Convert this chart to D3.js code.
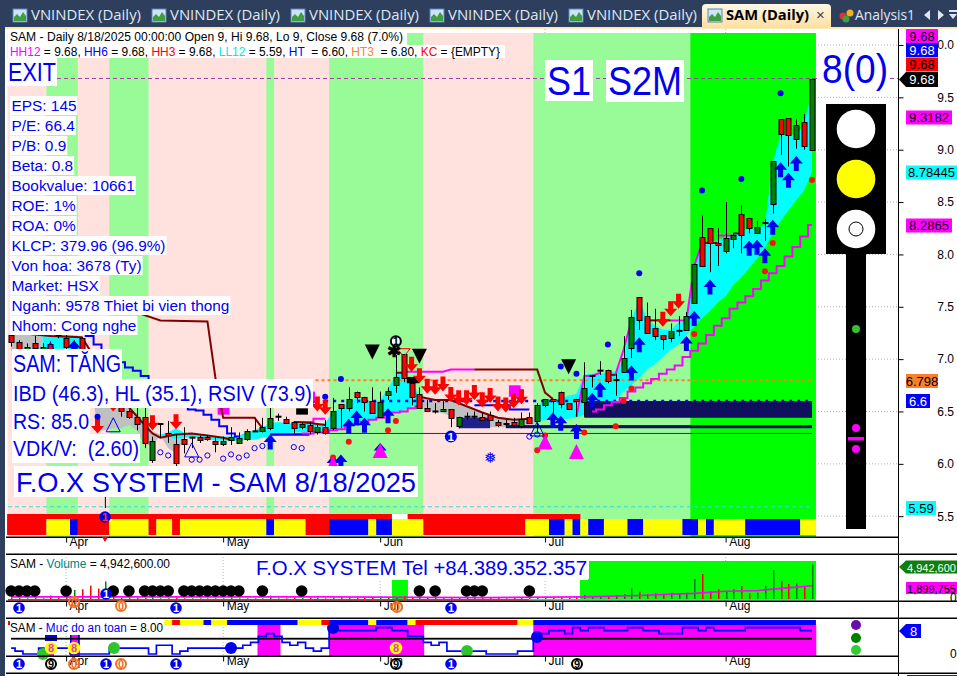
<!DOCTYPE html>
<html><head><meta charset="utf-8">
<script src="https://cdnjs.cloudflare.com/ajax/libs/d3/7.8.5/d3.min.js"></script>
<style>
html,body{margin:0;padding:0;background:#fff;overflow:hidden}
svg{display:block;font-family:"Liberation Sans",Arial,sans-serif}
text{white-space:pre}
</style></head><body><div id="c"></div>
<script>
// ---------- candles, one entry per trading bar ----------
const opens=[7.23,7.16,7.01,7.15,7.06,7.14,7.26,7.20,7.06,7.20,7.00,6.88,6.62,6.74,6.54,6.50,6.45,6.45,6.04,6.38,6.29,6.19,6.24,6.25,6.26,6.26,6.22,6.19,6.23,6.20,6.24,6.31,6.31,6.34,6.45,6.43,6.40,6.35,6.37,6.30,6.35,6.34,6.57,6.53,6.69,6.64,6.60,6.45,6.66,6.75,7.05,6.77,6.67,6.53,6.50,6.50,6.52,6.36,6.45,6.45,6.45,6.47,6.40,6.39,6.40,6.36,6.45,6.41,6.56,6.62,6.69,6.58,6.62,6.59,6.84,6.89,6.90,6.80,6.88,7.11,7.59,7.41,7.30,7.23,7.20,7.27,7.28,7.54,8.17,8.25,8.11,8.03,8.15,8.39,8.35,8.20,8.30,8.48,9.29,9.30,9.10,9.26,9.00];
const highs=[7.26,7.18,7.15,7.22,7.15,7.17,7.27,7.24,7.18,7.21,7.02,6.92,6.80,6.82,6.62,6.52,6.60,6.55,6.26,6.38,6.41,6.28,6.35,6.26,6.27,6.27,6.25,6.26,6.35,6.30,6.33,6.44,6.44,6.54,6.48,6.45,6.40,6.40,6.40,6.37,6.42,6.63,6.57,6.73,6.69,6.64,6.73,6.69,6.73,7.04,7.05,6.78,6.73,6.61,6.58,6.60,6.52,6.45,6.49,6.50,6.49,6.50,6.42,6.42,6.44,6.49,6.49,6.58,6.62,6.62,6.69,6.58,6.62,6.97,6.84,6.98,6.90,6.86,7.22,7.47,7.59,7.54,7.48,7.23,7.34,7.41,7.45,7.91,8.37,8.25,8.25,8.50,8.21,8.47,8.35,8.32,8.34,8.89,9.29,9.30,9.29,9.34,9.68];
const lows=[7.12,7.06,6.98,7.06,7.03,7.00,7.20,7.08,7.02,6.98,6.85,6.72,6.58,6.55,6.45,6.43,6.32,6.15,6.01,6.25,6.20,5.98,6.10,6.15,6.20,6.22,6.11,6.17,6.18,6.20,6.22,6.31,6.30,6.32,6.41,6.38,6.29,6.33,6.28,6.28,6.28,6.32,6.34,6.50,6.58,6.50,6.49,6.45,6.61,6.68,6.78,6.56,6.53,6.50,6.48,6.50,6.35,6.34,6.42,6.43,6.41,6.42,6.35,6.36,6.35,6.34,6.39,6.30,6.54,6.47,6.53,6.52,6.45,6.45,6.73,6.85,6.77,6.65,6.88,7.01,7.28,7.25,7.18,7.09,7.16,7.22,7.28,7.54,7.89,7.83,7.89,8.01,8.06,8.01,8.20,8.20,8.13,8.39,8.95,8.84,9.01,9.00,9.00];
const closes=[7.16,7.10,7.12,7.11,7.12,7.04,7.23,7.12,7.14,7.02,6.88,6.75,6.74,6.60,6.50,6.45,6.38,6.20,6.22,6.38,6.28,6.01,6.19,6.25,6.23,6.24,6.19,6.22,6.26,6.25,6.31,6.31,6.35,6.44,6.45,6.39,6.34,6.38,6.31,6.35,6.29,6.50,6.53,6.62,6.64,6.59,6.49,6.59,6.70,6.83,6.82,6.64,6.53,6.50,6.50,6.52,6.44,6.45,6.45,6.45,6.42,6.42,6.37,6.38,6.37,6.43,6.39,6.56,6.62,6.60,6.57,6.52,6.60,6.72,6.84,6.89,6.79,6.80,7.01,7.40,7.37,7.25,7.22,7.19,7.27,7.27,7.41,7.91,7.89,8.11,8.09,8.16,8.19,8.19,8.25,8.26,8.30,8.89,9.15,9.14,9.24,9.04,9.68];
const volumes=[.2,.15,.1,.2,.1,.5,.2,.3,1.3,1.4,1.9,1.5,2.5,.4,.2,.2,.15,.15,.3,.1,.1,.2,.1,.1,.1,.1,.1,.1,.2,.1,.1,.1,.1,.5,.1,.1,.2,.15,.15,.2,.1,.2,.25,.2,.15,.2,.3,.25,.2,.3,.4,.3,.25,.2,.15,.15,.2,.2,.15,.15,.2,.2,.15,.1,.15,.2,.2,.3,.25,.2,.3,.2,.25,.57,.43,.43,.43,.57,.71,1.52,1.05,.71,.81,.71,.9,.71,.9,2.86,3.57,1.1,1.38,1.1,1.38,1.86,.81,.9,1.86,4.14,2.57,2.14,2.24,1.86,4.94];
const safety=[2,1,0,0,2,2,2,2,0,0,0,0,0,2,2,2,2,2,0,3,3,0,1,2,2,2,2,2,2,2,3,4,6,7,6,4,3,4,2,1,2,8,8,8,8,8,8,9,9,8,8,6,6,4,3,4,1,1,1,1,1,0,0,0,0,1,1,6,7,8,8,7,9,8,9,9,8,8,8,9,9,8,8,7,7,7,9,9,8,9,8,8,8,8,9,9,9,9,9,9,9,8,8];
// ---------- background zones (first / last bar) ----------
const palegreenFirst=[5,13,33,41,67], palegreenLast=[8,17,33,52,86];
const limeFirst=87, limeLast=102;
// ---------- colour strips (first bar of each run) ----------
const stripRuns=[0,5,8,9,13,18,19,21,22,33,34,38,41,46,47,49,53,66,69,71,72,73,74,76,79,81,86,88,89,90,94,101];
const stripColors=["red","yellow","blue","red","yellow","red","yellow","red","yellow","blue","yellow","red","blue","yellow","blue","yellow","red","yellow","blue","yellow","blue","yellow","blue","yellow","blue","yellow","blue","yellow","blue","yellow","blue","yellow"];
const topStripRuns=[0,49,51,73], topStripColors=["red","white","red","white"];
const safetyRuns=[20,21,22,25,26,28,37,40,41,46,47,51,52,65,67];
const safetyColors=["yellow","red","yellow","blue","yellow","blue","yellow","red","blue","yellow","blue","yellow","red","yellow","blue"];
// ---------- cloud bands ----------
const cyanBars=[19,20,21,22,23,24,25,26,27,28,29,30,31,32,33,34,35,36,37,38,39,40,41,42,43,44,45,46,47,48,49,50,51,52];
const cyanTop=[6.28,6.30,6.34,6.30,6.29,6.28,6.28,6.26,6.26,6.26,6.27,6.30,6.32,6.35,6.39,6.40,6.39,6.38,6.38,6.38,6.38,6.39,6.50,6.53,6.59,6.63,6.61,6.58,6.61,6.72,6.85,6.87,6.78,6.65];
const cyanBottom=[6.27,6.26,6.23,6.25,6.25,6.25,6.24,6.22,6.22,6.22,6.22,6.23,6.23,6.25,6.26,6.27,6.29,6.30,6.30,6.30,6.30,6.30,6.32,6.34,6.36,6.39,6.39,6.42,6.45,6.48,6.50,6.51,6.55,6.55];
const cyan2Bars=[67,68,69,70,71,72,73,74,75,76,77,78,79,80,81,82,83,84,85,86,87,88,89,90,91,92,93,94,95,96,97,98,99,100,101,102];
const cyan2Top=[6.55,6.61,6.61,6.63,6.65,6.67,6.85,6.86,6.86,6.88,6.88,6.99,7.39,7.56,7.39,7.32,7.28,7.28,7.35,7.35,7.91,8.14,8.11,8.14,8.16,8.19,8.23,8.25,8.25,8.28,8.88,9.14,9.14,9.14,9.24,9.57];
const cyan2Bottom=[6.40,6.42,6.42,6.42,6.43,6.44,6.47,6.50,6.54,6.58,6.61,6.69,6.75,6.82,6.90,6.95,7.02,7.09,7.14,7.23,7.31,7.39,7.46,7.54,7.60,7.71,7.78,7.87,7.96,8.06,8.21,8.32,8.42,8.52,8.61,8.79];
const cyan0Bars=[4,5,6,7,8,9], cyan0Top=[7.22,7.23,7.24,7.23,7.22,7.20], cyan0Bottom=[7.10,7.10,7.10,7.10,7.08,7.05];
const greyBars=[52,53,54,55,56,57,58,59,60,61,62,63,64,65,66,67];
const greyTop=[6.64,6.63,6.61,6.61,6.61,6.58,6.55,6.51,6.49,6.47,6.44,6.43,6.42,6.42,6.43,6.44];
const greyBottom=[6.54,6.51,6.50,6.48,6.46,6.44,6.42,6.38,6.35,6.35,6.35,6.35,6.35,6.35,6.34,6.40];
const grey2Bars=[0,1,2,3,4,10,11,12,13,14,15,16,17,18,19,20,21,22];
const grey2Top=[7.26,7.25,7.24,7.23,7.22,7.00,6.61,6.56,6.56,6.56,6.53,6.46,6.41,6.31,6.28,6.28,6.23,6.25];
const grey2Bottom=[7.08,7.08,7.08,7.08,7.08,6.90,6.32,6.32,6.34,6.34,6.37,6.32,6.18,6.18,6.27,6.15,6.10,6.23];
// ---------- lines ----------
const brownABars=[1,5,9,10,12,15,17,18,19,21,23,25,27,28];
const brownAVals=[7.25,7.22,7.21,7.09,6.75,6.54,6.37,6.29,6.25,6.28,6.29,6.27,6.25,6.23];
const brownBBars=[36,38,40], brownBVals=[6.40,6.39,6.37];
const brownCBars=[52,54,56,58,60,62,64,66], brownCVals=[6.64,6.61,6.61,6.55,6.49,6.44,6.42,6.43];
const stopABars=[15,19,25,26,27,31,32], stopAVals=[7.47,7.37,7.36,6.83,6.44,6.44,6.34];
const stopBBars=[49,50], stopBVals=[6.87,6.87];
const stopCBars=[59,67,68,69], stopCVals=[6.90,6.90,6.68,6.62];
const stopDBars=[76,77], stopDVals=[6.85,6.85];
const stopEBars=[81,84], stopEVals=[7.37,7.37];
const stopFBars=[88,90], stopFVals=[8.11,8.11];
const stopGBars=[92,93], stopGVals=[8.20,8.20];
const magTopBars=[50,55,56,59], magTopVals=[6.88,6.88,6.90,6.90];
const magMidBars=[36,38,39,40], magMidVals=[6.40,6.40,6.43,6.43];
const magLowBars=[37,38,39,40,41,42,43,44,45,46,47,48,49,50,51,52];
const magLowVals=[6.29,6.29,6.30,6.30,6.32,6.33,6.37,6.38,6.40,6.42,6.44,6.48,6.49,6.50,6.53,6.55];
const magStepBars=[74,75,76,77,78,79,80,81,82,83,84,85,86,87,88,89,90,91,92,93,94,95,96,97,98,99,100,101,102];
const magStepVals=[6.50,6.52,6.56,6.59,6.63,6.69,6.73,6.77,6.81,6.86,6.90,6.94,7.02,7.08,7.15,7.23,7.32,7.39,7.48,7.54,7.60,7.67,7.75,7.82,7.89,7.98,8.07,8.17,8.28];
const magUpABars=[72,73,74,75], magUpAVals=[6.45,6.84,6.84,6.87];
const magUpBBars=[77,78,79], magUpBVals=[6.86,7.09,7.37];
const magUpCBars=[84,86,87,88], magUpCVals=[7.37,7.37,7.89,8.11];
const magUpDBars=[90,92], magUpDVals=[8.18,8.18];
const blueStepBars=[9,10,11,12,13,14,15,16,17,18,19,20,21,22,23,24,25,26,27,28,29];
const blueStepVals=[7.25,7.22,7.14,7.07,7.03,6.97,6.92,6.89,6.84,6.78,6.72,6.69,6.64,6.59,6.52,6.51,6.47,6.42,6.36,6.29,6.26];
const blueLowBars=[33,38], blueLowVals=[6.28,6.28];
const blueMidBars=[59,63,64,66], blueMidVals=[6.56,6.56,6.52,6.52];
const volAvgBars=[0,20,40,60,73,80,87,91,95,100,102], volAvgVals=[.3,.3,.3,.2,.3,.5,.8,1.1,1.2,1.7,1.9];
// ---------- marks: bar / price pairs ----------
const redArrowBars=[11,13,18,21,38,39,40,51,52,53,54,55,56,57,58,59,60,61,62,63,64,65,83,84,85];
const redArrowTips=[6.29,6.50,6.32,6.33,6.53,6.50,6.47,6.88,6.77,6.67,6.66,6.69,6.59,6.56,6.56,6.61,6.54,6.58,6.50,6.49,6.53,6.57,7.31,7.41,7.48];
const blueArrowBars=[8,33,41,42,43,44,45,47,48,69,70,72,74,75,79,80,86,87,89,94,95,96,97,98,99,100];
const blueArrowTips=[7.18,6.28,6.08,6.09,6.43,6.51,6.44,6.20,6.53,6.49,6.46,6.38,6.68,6.78,6.94,7.21,7.22,7.46,7.76,8.13,8.14,8.06,8.33,8.88,8.78,8.94];
const blueDotBars=[11,40,42,70,72,76,80,88,93,98], blueDotVals=[6.45,6.64,6.81,6.93,6.86,7.14,7.82,8.61,8.72,9.54];
const redDotBars=[41,43,48,49,67,68,73,77,78,79,87,96,97,102], redDotVals=[6.06,6.21,6.32,6.41,6.13,6.27,6.30,6.36,6.60,6.72,7.24,7.84,8.11,8.71];
const ringBars=[19,20,23,24,25,27,28,29,30,31,32,36,37,66,67], ringVals=[6.11,6.08,6.04,6.04,6.08,6.05,6.09,6.06,6.08,6.15,6.17,6.16,6.15,6.26,6.28];
const magTriBars=[41,47,68,72], magTriVals=[6.07,6.20,6.28,6.19];
const hollowTriBars=[5,13,23,67], hollowTriVals=[7.16,6.44,6.20,6.40];
const blackTriBars=[46,52,71], blackTriVals=[7.14,7.10,7.00];
const volCircleBars=[0,1,2,3,7,13,15,17,18,19,20,22,23,24,25,26,27,28,29,32,37,52,54,58,59,60,66];
// ---------- levels and labels ----------
const levels={hh:9.68,ll:5.59,ht:6.60,ht3:6.798};
const priceTicks=[5.5,6,6.5,7,7.5,8,8.5,9,9.5,10];
const monthBars=[7,27,47,68,91], monthNames=["Apr","May","Jun","Jul","Aug"];
const infoTexts=["EPS: 145","P/E: 66.4","P/B: 0.9","Beta: 0.8","Bookvalue: 10661","ROE: 1%","ROA: 0%","KLCP: 379.96 (96.9%)","Von hoa: 3678 (Ty)","Market: HSX","Nganh: 9578 Thiet bi vien thong","Nhom: Cong nghe"];
const tabTexts=["VNINDEX (Daily)","VNINDEX (Daily)","VNINDEX (Daily)","VNINDEX (Daily)","VNINDEX (Daily)"];

// ---------- scales ----------
const W=957,H=676;
const x=d3.scaleLinear().domain([0,102]).range([11.15,812]);
const y=d3.scaleLinear().domain([5.5,10]).range([516.2,45]);
const yVol=d3.scaleLinear().domain([0,5]).range([599,564]);
const ySafe=d3.scaleLinear().domain([0,9]).range([654,627.7]);
const barW=x(1)-x(0), BLUE="#0000ee";
const svg=d3.select("#c").append("svg").attr("width",W).attr("height",H);
const rect=(g,a,b,c,d,f)=>g.append("rect").attr("x",a).attr("y",b).attr("width",c).attr("height",d).attr("fill",f);
const pairs=(a,b)=>a.map((v,i)=>[v,b[i]]);

// ---------- chrome ----------
rect(svg,0,0,W,28,"#2e3f5e");
rect(svg,0,0,5,H,"#2e3f5e");
rect(svg,5,27,W-5,2,"#ffe8b8");
const tabs=svg.append("g");
function icon(g,ix){
  rect(g,ix,9,14,13,"#cfe3f8").attr("stroke","#5a83b8");
  g.append("path").attr("d",`M${ix+1} 21V17l3-3 3 3 3-5 3 4v5z`).attr("fill","#3f9e3f");
}
tabTexts.forEach((t,i)=>{
  const ix=13+i*139;
  icon(tabs,ix);
  tabs.append("text").attr("x",ix+18).attr("y",20).attr("font-family","'Open Sans'").attr("font-size",14).attr("fill","#dfe8f5").attr("textLength",110).attr("lengthAdjust","spacingAndGlyphs").text(t);
});
const grad=svg.append("defs").append("linearGradient").attr("id","tab").attr("x1",0).attr("x2",0).attr("y1",0).attr("y2",1);
grad.append("stop").attr("offset",0).attr("stop-color","#fdf7e6");
grad.append("stop").attr("offset",1).attr("stop-color","#ffdf9e");
tabs.append("path").attr("d","M702 28V8q0-4 4-4h121q4 0 4 4v20z").attr("fill","url(#tab)");
icon(tabs,708);
tabs.append("text").attr("x",726).attr("y",20).attr("font-family","'Open Sans'").attr("font-weight",700).attr("font-size",14).attr("fill","#000").attr("textLength",83).attr("lengthAdjust","spacingAndGlyphs").text("SAM (Daily)");
tabs.append("text").attr("x",816).attr("y",20).attr("font-size",15).attr("fill","#444").text("×");
tabs.append("circle").attr("cx",843).attr("cy",16).attr("r",3.5).attr("fill","#e03030");
tabs.append("circle").attr("cx",850).attr("cy",13).attr("r",3.5).attr("fill","#f0b020");
tabs.append("circle").attr("cx",846).attr("cy",19).attr("r",3.5).attr("fill","#40a040");
tabs.append("text").attr("x",855).attr("y",20).attr("font-family","'Open Sans'").attr("font-size",14).attr("fill","#dfe8f5").attr("textLength",60).attr("lengthAdjust","spacingAndGlyphs").text("Analysis1");
tabs.append("path").attr("d","M930 10v10l-6-5zM938 10v10l6-5zM949 10h8v2h-8zM949 14h8l-4 5z").attr("fill","#dfe8f5");

// ---------- grid ----------
const grid=svg.append("g").attr("stroke","#b4b4b4").attr("stroke-dasharray","1 2");
priceTicks.forEach(p=>grid.append("line").attr("x1",8).attr("x2",898).attr("y1",y(p)).attr("y2",y(p)));
monthBars.forEach(b=>{[[29,537],[554,601],[618,656]].forEach(r=>grid.append("line").attr("x1",x(b)).attr("x2",x(b)).attr("y1",r[0]).attr("y2",r[1]));});

// ---------- background zones ----------
const bg=svg.append("g");
rect(bg,7.5,33,x(102)+barW/2-7.5,504,"#ffe2de");
palegreenFirst.forEach((f,i)=>rect(bg,x(f)-barW/2,33,(palegreenLast[i]-f+1)*barW,504,"#98fb98"));
rect(bg,x(limeFirst)-barW/2,33,(limeLast-limeFirst+1)*barW,504,"#00ff00");

// ---------- clouds ----------
const area=d3.area().x(d=>x(d[0])).y0(d=>y(d[2])).y1(d=>y(d[1]));
const band=(b,t,bo,c)=>svg.append("path").attr("d",area(b.map((v,i)=>[v,t[i],bo[i]]))).attr("fill",c);
band(grey2Bars.slice(0,5),grey2Top.slice(0,5),grey2Bottom.slice(0,5),"#c0c0c0");
band(grey2Bars.slice(5),grey2Top.slice(5),grey2Bottom.slice(5),"#c0c0c0");
band(greyBars,greyTop,greyBottom,"#c0c0c0");
band(cyan0Bars,cyan0Top,cyan0Bottom,"#00ffff");
band(cyanBars,cyanTop,cyanBottom,"#00ffff");
band(cyan2Bars,cyan2Top,cyan2Bottom,"#00ffff");

// ---------- levels and rectangles ----------
const lev=svg.append("g");
const band2=(a,b,p1,p2,c)=>rect(lev,x(a),y(p1),x(b)-x(a),y(p2)-y(p1),c);
band2(73,102,6.6,6.44,"#10105f");
band2(63,102,6.37,6.34,"#10105f");
band2(57,61,6.44,6.34,"#20208c");
band2(40,102,6.295,6.285,"#2a2aa8");
lev.append("line").attr("x1",x(40)).attr("x2",x(102)).attr("y1",y(levels.ht)).attr("y2",y(levels.ht)).attr("stroke","#0000ff").attr("stroke-width",2.5).attr("stroke-dasharray","3 5");
lev.append("line").attr("x1",x(38)).attr("x2",x(102)).attr("y1",y(levels.ht3)).attr("y2",y(levels.ht3)).attr("stroke","#ff7f27").attr("stroke-width",2).attr("stroke-dasharray","3 3");
lev.append("line").attr("x1",8).attr("x2",812).attr("y1",y(levels.ll)).attr("y2",y(levels.ll)).attr("stroke","#30dcdc").attr("stroke-dasharray","4 3");
lev.append("line").attr("x1",8).attr("x2",898).attr("y1",y(levels.hh)).attr("y2",y(levels.hh)).attr("stroke","#a040a0").attr("stroke-dasharray","4 3");
band2(63.4,64.9,6.75,6.64,"#ff00ff");
band2(26.3,27.8,6.58,6.47,"#ff00ff");
band2(36.3,37.8,6.53,6.47,"#000");
band2(50.4,52,6.83,6.77,"#000");
band2(38.4,38.7,6.69,6.58,"#ff00ff");

// ---------- lines ----------
const line=d3.line().x(d=>x(d[0])).y(d=>y(d[1]));
const stepLine=d3.line().x(d=>x(d[0])).y(d=>y(d[1])).curve(d3.curveStep);
const plot=(gen,a,b,c,w)=>svg.append("path").attr("d",gen(pairs(a,b))).attr("fill","none").attr("stroke",c).attr("stroke-width",w);
plot(stepLine,blueStepBars,blueStepVals,"#0000ff",2);
plot(stepLine,blueLowBars,blueLowVals,"#0000ff",2.5);
plot(stepLine,blueMidBars,blueMidVals,"#0000ff",2);
plot(stepLine,magStepBars,magStepVals,"#ff00ff",2);
plot(stepLine,magLowBars,magLowVals,"#ff00ff",2);
plot(stepLine,magMidBars,magMidVals,"#ff00ff",2);
plot(line,magTopBars,magTopVals,"#ff00ff",2);
plot(line,magUpABars,magUpAVals,"#ff00ff",2);
plot(line,magUpBBars,magUpBVals,"#ff00ff",2);
plot(line,magUpCBars,magUpCVals,"#ff00ff",2);
plot(line,magUpDBars,magUpDVals,"#ff00ff",2);
[[brownABars,brownAVals],[brownBBars,brownBVals],[brownCBars,brownCVals],[stopABars,stopAVals],[stopBBars,stopBVals],[stopCBars,stopCVals],[stopDBars,stopDVals],[stopEBars,stopEVals],[stopFBars,stopFVals],[stopGBars,stopGVals]].forEach(s=>plot(line,s[0],s[1],"#800000",2));

// ---------- candles ----------
const cg=svg.append("g");
closes.forEach((c,i)=>{
  const o=opens[i],cx=Math.round(x(i))+.5;
  cg.append("line").attr("x1",cx).attr("x2",cx).attr("y1",y(highs[i])).attr("y2",y(lows[i])).attr("stroke","#000");
  if(c===o){
    rect(cg,cx-3,y(c)-1,6,2,"#000");
  } else {
    const t=Math.round(y(Math.max(o,c))),b=Math.round(y(Math.min(o,c)));
    rect(cg,cx-2.5,t+.5,5,Math.max(b-t,1),c>o?"#008000":"#ff0000").attr("stroke","#000");
  }
});

// ---------- markers ----------
const mk=svg.append("g");
const arrow=(i,p,dir,c)=>{const X=x(i),Y=y(p),d=dir;
  mk.append("path").attr("d",`M${X} ${Y}L${X+6.5} ${Y+d*7.5}H${X+2.5}V${Y+d*15}H${X-2.5}V${Y+d*7.5}H${X-6.5}Z`).attr("fill",c);};
blueArrowBars.forEach((b,i)=>arrow(b,blueArrowTips[i],1,"#0000ee"));
redArrowBars.forEach((b,i)=>arrow(b,redArrowTips[i],-1,"#ff0000"));
const dots=(b,v,c)=>b.forEach((k,i)=>mk.append("circle").attr("cx",x(k)).attr("cy",y(v[i])).attr("r",3).attr("fill",c));
dots(blueDotBars,blueDotVals,"#0000ee");
dots(redDotBars,redDotVals,"#ff1010");
ringBars.forEach((k,i)=>mk.append("circle").attr("cx",x(k)).attr("cy",y(ringVals[i])).attr("r",2.6).attr("fill","none").attr("stroke","#0000ee"));
const tri=(k,p,dir,w,h,f,s)=>{const X=x(k),Y=y(p);
  mk.append("path").attr("d",`M${X} ${dir>0?Y:Y+h}L${X+w/2} ${dir>0?Y+h:Y}H${X-w/2}Z`).attr("fill",f).attr("stroke",s);};
magTriBars.forEach((k,i)=>tri(k,magTriVals[i],1,15,15,"#ff00ff","none"));
hollowTriBars.forEach((k,i)=>tri(k,hollowTriVals[i],1,14,14,"none","#0000ee"));
blackTriBars.forEach((k,i)=>tri(k,blackTriVals[i],-1,15,15,"#000","none"));
tri(50,7.10,-1,13,8,"none","#ff0000");
mk.append("text").attr("x",x(49)-9).attr("y",y(7.09)+7).attr("font-size",17).attr("font-weight",700).text("✱");
const coin=(g,cx,cy,r,fill,stroke,txt,col)=>{
  g.append("circle").attr("cx",cx).attr("cy",cy).attr("r",r).attr("fill",fill).attr("stroke",stroke).attr("stroke-width",stroke==="none"?0:2);
  g.append("text").attr("x",cx).attr("y",cy+4).attr("text-anchor","middle").attr("font-size",11).attr("font-weight",700).attr("fill",col).text(txt);
};
coin(mk,x(49),y(7.17),5,"#fff","#000","1","#000");
coin(mk,x(56),y(6.26),6,"#0000ee","none","1","#fff");
mk.append("text").attr("x",x(61)).attr("y",y(6.07)+6).attr("text-anchor","middle").attr("font-family","DejaVu Sans").attr("font-size",15).attr("fill","#0000ee").text("❅");

// ---------- bottom strip of main pane ----------
const strip=(runs,cols,top,h,end)=>runs.forEach((r,i)=>{
  const nx=i+1<runs.length?runs[i+1]:end+1;
  rect(svg,x(r)-barW/2,top,(nx-r)*barW,h,cols[i]);
});
rect(svg,7.5,514,3,21,"#ff0000");
strip(topStripRuns,topStripColors,514,5.5,72);
rect(svg,7.5,519,3,16,"#ff0000");
strip(stripRuns,stripColors,519,16,102);
svg.append("line").attr("x1",x(12)).attr("x2",x(12)).attr("y1",497).attr("y2",508).attr("stroke","#000");

// ---------- volume pane ----------
const vp=svg.append("g");
rect(vp,x(49)-barW/2,579,16,20,"#00ff00");
rect(vp,580,579,10,20,"#00ff00");
rect(vp,589,561,227,39,"#00ff00");
rect(vp,8,599,x(66)-8,1.5,"#ff2020");
rect(vp,x(66),599,x(102)+4-x(66),1.5,"#40d0b0");
volumes.forEach((v,i)=>{
  const c=closes[i]<opens[i]?"#ff0000":"#008000";
  rect(vp,Math.round(x(i)),yVol(v),1.5,yVol(0)-yVol(v),c);
});
vp.append("path").attr("d",d3.line().x(d=>x(d[0])).y(d=>yVol(d[1]))(pairs(volAvgBars,volAvgVals))).attr("fill","none").attr("stroke","#ff00ff").attr("stroke-width",1.6);
volCircleBars.forEach(b=>vp.append("circle").attr("cx",x(b)).attr("cy",591).attr("r",5.8).attr("fill","#000"));
coin(vp,106,594,5.8,"#0000ee","none","1","#fff");

// ---------- safety pane ----------
const sp=svg.append("g");
rect(sp,x(32)-barW/2-1,625,23,31,"#ff00ff");
rect(sp,x(41)-barW/2,625,95,31,"#ff00ff");
rect(sp,x(67)-barW/2,625,283,31,"#ff00ff");
rect(sp,x(8)-barW/2,635,10,21,"#ff00ff");
rect(sp,45,635,12,6,"#0000ee");
rect(sp,70,635,1.5,10,"#0000ee"); rect(sp,78,635,1.5,10,"#0000ee");
rect(sp,48,650,6,6,"#ff00ff");
rect(sp,8,621,2,4,"#ff0000");
strip(safetyRuns,safetyColors,620,5,102);
rect(sp,11,637.8,801,1.8,"#000");
sp.append("path").attr("d",d3.line().x((d,i)=>x(i)).y(d=>ySafe(d)).curve(d3.curveStep)(safety)).attr("fill","none").attr("stroke","#0000ff").attr("stroke-width",1.7);
[[43,654,"#2fc42f"],[114,648,"#2fc42f"],[467,651,"#2fc42f"],[231,648,"#0000ee"],[333,628,"#0000ee"],[537,637,"#0000ee"]].forEach(d=>sp.append("circle").attr("cx",d[0]).attr("cy",d[1]).attr("r",6).attr("fill",d[2]));
[51,74,396].forEach(cx=>coin(sp,cx,648,6.3,"#ffff00","none","8","#e040c0"));
[[625,"#6a0dad"],[638,"#008000"],[650,"#32cd32"]].forEach(d=>sp.append("circle").attr("cx",856).attr("cy",d[0]).attr("r",5).attr("fill",d[1]));

// ---------- panel rules ----------
[537,554,601,618,656,673].forEach(r=>rect(svg,6,r-.5,r===537||r===656?892:951,1.5,"#000"));

// ---------- axes ----------
const priceAxis=d3.axisRight(y).tickValues(priceTicks).tickFormat(d3.format(".1f")).tickSize(5).tickPadding(0);
const ag=svg.append("g").attr("transform","translate(898.5,0)").call(priceAxis);
ag.select(".domain").remove();
ag.selectAll("text").attr("font-size",12).attr("font-family","Liberation Sans").attr("fill","#000").attr("text-anchor","end").attr("x",55.5);
rect(svg,898,29,1,H-29,"#000");
const monthAxis=d3.axisBottom(x).tickValues(monthBars).tickFormat((d,i)=>monthNames[i]).tickSize(5).tickPadding(1);
[537,601,656].forEach(t=>{
  const g=svg.append("g").attr("transform",`translate(0,${t+.5})`).call(monthAxis);
  g.select(".domain").remove();
  g.selectAll("text").attr("font-size",12).attr("font-family","Liberation Sans").attr("text-anchor","start").attr("dx",3).attr("dy",2).attr("fill","#000");
});
// axis-strip coins
coin(svg,19,608,5.8,"#0000ee","none","1","#fff");
coin(svg,176,608,5.8,"#0000ee","none","1","#fff");
coin(svg,451,608,5.8,"#0000ee","none","1","#fff");
coin(svg,74,602,5,"none","#f07020","0","#f07020");
coin(svg,121,606,5,"none","#f07020","0","#f07020");
coin(svg,397,607,5,"none","#f07020","0","#f07020");
[19,106,176,451].forEach(c=>coin(svg,c,664,5.8,"#0000ee","none","1","#fff"));
[51,396,577].forEach(c=>coin(svg,c,664,5,"#fff","#000","9","#000"));
[74,121].forEach(c=>coin(svg,c,664,5,"none","#f07020","0","#f07020"));
coin(svg,105,517,5.8,"#0000ee","none","1","#ff3030");
svg.append("path").attr("d","M102 537h6l-3 5z").attr("fill","#ff0000");

// ---------- white text boxes ----------
const tb=svg.append("g");
function box(x0,y0,w,h,size,txt,tw,col,pad){
  const r=rect(tb,x0,y0,w||10,h,"#fff"), p=pad==null?1:pad;
  const t=tb.append("text").attr("x",x0+p).attr("y",y0+h/2+size*.36).attr("font-size",size).attr("fill",col||BLUE).text(txt);
  if(tw) t.attr("textLength",tw).attr("lengthAdjust","spacingAndGlyphs");
  if(!w) r.attr("width",t.node().getComputedTextLength()+p+1);
  return t;
}
// header
rect(tb,8,33,399,12,"#fff"); rect(tb,8,45,497,13,"#fff");
tb.append("text").attr("x",10).attr("y",41).attr("font-size",12).attr("textLength",393).attr("lengthAdjust","spacingAndGlyphs").text("SAM - Daily 8/18/2025 00:00:00 Open 9, Hi 9.68, Lo 9, Close 9.68 (7.0%)");
const hdr=tb.append("text").attr("x",10).attr("y",56).attr("font-size",12).attr("textLength",490).attr("lengthAdjust","spacingAndGlyphs");
[["HH12","#ff00ff"],[" = 9.68, ","#000"],["HH6","#0000ff"],[" = 9.68, ","#000"],["HH3","#ff0000"],[" = 9.68, ","#000"],["LL12","#00e8e8"],[" = 5.59, ","#000"],["HT ","#0000ff"],[" = 6.60, ","#000"],["HT3 ","#ff7f27"],[" = 6.80, ","#000"],["KC","#ff0000"],[" = {EMPTY}","#000"]].forEach(s=>hdr.append("tspan").attr("fill",s[1]).text(s[0]));
box(7,58,50,28,25,"EXIT",48);
box(545,60,48,41,40,"S1",44,BLUE,2);
box(606,60,78,42,40,"S2M",74,BLUE,2);
box(820,48,70,42,40,"8(0)",66,BLUE,2);
infoTexts.forEach((t,i)=>box(10,96+i*20,0,19,15.4,t,0,BLUE,1.5));
box(12,349,110,30,23,"SAM: TĂNG",108);
box(12,379,301,29,22,"IBD (46.3), HL (35.1), RSIV (73.9)",299);
box(12,408,78,26,22,"RS: 85.0",76);
box(12,434,128,29,22,"VDK/V:  (2.60)",126);
box(14,466,404,31,28,"F.O.X SYSTEM - SAM 8/18/2025",400,BLUE,2);
box(253,556,335,24,20,"F.O.X SYSTEM Tel +84.389.352.357",331,BLUE,3);
// pane titles
const volT=tb.append("text").attr("x",10).attr("y",568).attr("font-size",12).attr("textLength",160).attr("lengthAdjust","spacingAndGlyphs");
[["SAM - ","#000"],["Volume","#008080"],[" = 4,942,600.00","#000"]].forEach(s=>volT.append("tspan").attr("fill",s[1]).text(s[0]));
const safeT=tb.append("text").attr("x",10).attr("y",632).attr("font-size",12).attr("textLength",153).attr("lengthAdjust","spacingAndGlyphs");
[["SAM - ","#000"],["Muc do an toan","#0000ee"],[" = 8.00","#000"]].forEach(s=>safeT.append("tspan").attr("fill",s[1]).text(s[0]));

// ---------- traffic light ----------
const tl=svg.append("g");
rect(tl,826,104,60,150,"#000");
rect(tl,846,254,20,275,"#000");
tl.append("circle").attr("cx",856).attr("cy",129).attr("r",19.3).attr("fill","#fff");
tl.append("circle").attr("cx",856).attr("cy",179).attr("r",19.3).attr("fill","#ffff00");
tl.append("circle").attr("cx",856).attr("cy",229).attr("r",19.3).attr("fill","#fff");
tl.append("circle").attr("cx",856).attr("cy",229).attr("r",7).attr("fill","#fff").attr("stroke","#000");
tl.append("circle").attr("cx",856).attr("cy",329).attr("r",4).attr("fill","#2fc42f");
tl.append("circle").attr("cx",856).attr("cy",428).attr("r",4).attr("fill","#ff00ff");
rect(tl,848,437,16,3.5,"#ff00ff");
tl.append("circle").attr("cx",856).attr("cy",449).attr("r",4).attr("fill","#ff00ff");

// ---------- right tags ----------
function tag(cy,wid,bg,fg,txt,arrowTip,h,fs){
  const g=svg.append("g"),H2=(h||14)/2;
  if(arrowTip) g.append("path").attr("d",`M899 ${cy}L906 ${cy-H2}V${cy+H2}Z`).attr("fill",bg);
  rect(g,906,cy-H2,wid,H2*2,bg);
  g.append("text").attr("x",906+wid/2).attr("y",cy+4.5).attr("text-anchor","middle").attr("font-size",fs||13).attr("fill",fg).text(txt);
}
tag(36,32,"#ff00ff","#000","9.68");
tag(50,32,"#0000ff","#fff","9.68");
tag(64.5,32,"#ff0000","#000","9.68");
tag(79.5,32,"#000","#fff","9.68",true,15);
tag(117.5,46,"#ff00ff","#000","9.3182");
tag(172.5,51,"#00ffff","#000","8.78445");
tag(225.5,46,"#ff00ff","#000","8.2865");
tag(381,32,"#f97e2e","#000","6.798");
tag(401,24,"#0000ff","#fff","6.6");
tag(508,30,"#00ffff","#000","5.59");
tag(567,51,"#0f7f0f","#fff","4,942,600",true,13,11);
tag(588,51,"#ff00ff","#000","1,899,755",false,12,11);
tag(631,15,"#0000ff","#fff","8",true,14);
[[950,602],[950,658]].forEach(p=>svg.append("text").attr("x",p[0]).attr("y",p[1]).attr("font-size",12).text("0"));
rect(svg,907,675,50,1,"#2020a0");
</script></body></html>
